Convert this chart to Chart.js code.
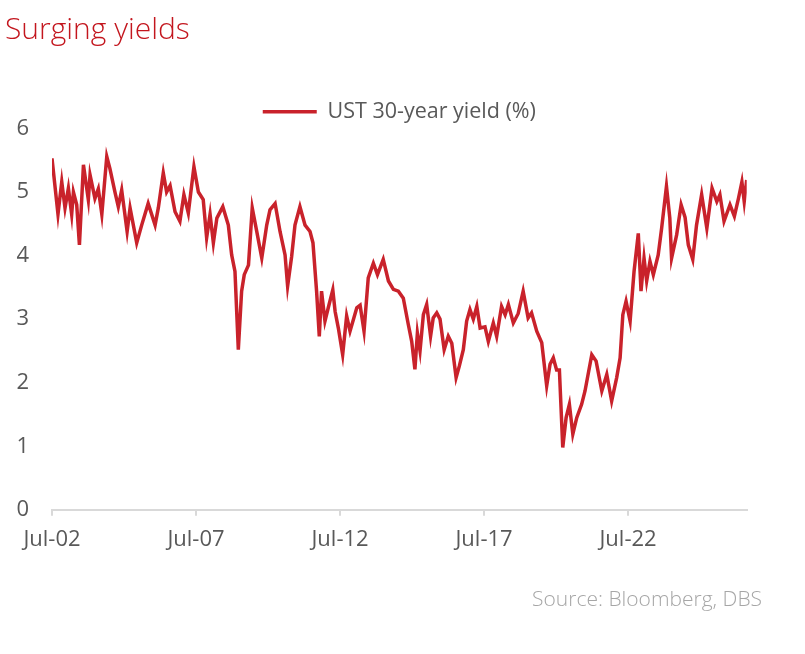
<!DOCTYPE html>
<html>
<head>
<meta charset="utf-8">
<title>Surging yields</title>
<script src="https://cdn.jsdelivr.net/npm/chart.js@4.4.1/dist/chart.umd.min.js"></script>
<style>
  html, body { margin: 0; padding: 0; background: #fff; }
  #wrap { width: 805px; height: 654px; }
</style>
</head>
<body>
<div id="wrap"><canvas id="yieldChart"></canvas></div>
<script>
// UST 30-year yield (turning points, %)
const dates = [
    '2002-07-01', '2002-09-16', '2002-11-03', '2002-12-14', '2003-01-26', '2003-03-07', '2003-03-29', '2003-05-10',
    '2003-06-14', '2003-08-04', '2003-10-05', '2003-10-27', '2003-12-28', '2004-02-10', '2004-03-24', '2004-05-26',
    '2004-07-05', '2004-09-08', '2004-10-20', '2004-12-02', '2005-02-10', '2005-03-17', '2005-06-10', '2005-08-12',
    '2005-11-03', '2006-01-30', '2006-03-10', '2006-05-12', '2006-06-24', '2006-08-07', '2006-10-09', '2006-12-10',
    '2007-01-30', '2007-03-25', '2007-06-05', '2007-07-31', '2007-10-01', '2007-11-14', '2007-12-27', '2008-02-08',
    '2008-03-22', '2008-06-06', '2008-08-15', '2008-09-27', '2008-11-08', '2008-12-20', '2009-02-01', '2009-03-04',
    '2009-04-27', '2009-06-14', '2009-08-10', '2009-10-13', '2009-12-15', '2010-01-26', '2010-03-30', '2010-06-01',
    '2010-08-04', '2010-09-06', '2010-10-27', '2010-12-08', '2011-02-10', '2011-04-14', '2011-06-16', '2011-07-23',
    '2011-09-08', '2011-10-12', '2011-11-10', '2011-12-23', '2012-02-04', '2012-03-31', '2012-04-30', '2012-06-10',
    '2012-08-04', '2012-09-24', '2012-11-06', '2013-01-31', '2013-03-12', '2013-05-01', '2013-06-24', '2013-08-28',
    '2013-10-19', '2014-01-01', '2014-03-06', '2014-05-08', '2014-07-10', '2014-09-12', '2014-11-14', '2014-12-27',
    '2015-02-07', '2015-03-08', '2015-04-11', '2015-05-23', '2015-07-04', '2015-08-23', '2015-09-26', '2015-11-10',
    '2015-12-21', '2016-02-13', '2016-04-04', '2016-05-18', '2016-07-12', '2016-08-22', '2016-10-12', '2016-11-24',
    '2017-01-05', '2017-02-17', '2017-03-31', '2017-05-12', '2017-07-13', '2017-08-25', '2017-10-27', '2017-12-09',
    '2018-02-10', '2018-03-25', '2018-05-05', '2018-07-07', '2018-09-08', '2018-11-10', '2019-01-12', '2019-02-25',
    '2019-04-30', '2019-07-02', '2019-09-04', '2019-10-16', '2019-11-27', '2020-01-08', '2020-02-13', '2020-03-25',
    '2020-05-07', '2020-06-18', '2020-07-31', '2020-09-20', '2020-11-21', '2021-01-03', '2021-03-28', '2021-05-22',
    '2021-08-03', '2021-10-05', '2021-12-06', '2022-02-09', '2022-03-22', '2022-04-26', '2022-06-06', '2022-07-27',
    '2022-09-16', '2022-11-09', '2022-12-13', '2023-01-21', '2023-02-24', '2023-04-05', '2023-05-17', '2023-07-18',
    '2023-08-31', '2023-11-01', '2023-12-13', '2024-01-05', '2024-03-09', '2024-05-04', '2024-06-24', '2024-08-04',
    '2024-09-30', '2024-11-17', '2025-01-21', '2025-03-26', '2025-05-31', '2025-07-31', '2025-09-09', '2025-10-31',
    '2026-01-15', '2026-03-10', '2026-05-01', '2026-06-14', '2026-07-13', '2026-08-14'
];
const yields = [
    5.53, 4.65, 5.16, 4.75, 5.06, 4.65, 5.00, 4.80,
    4.17, 5.43, 4.88, 5.27, 4.90, 5.05, 4.65, 5.56,
    5.37, 5.00, 4.77, 5.03, 4.38, 4.75, 4.20, 4.48,
    4.82, 4.48, 4.75, 5.30, 5.00, 5.10, 4.69, 4.54,
    4.96, 4.67, 5.40, 5.00, 4.88, 4.28, 4.65, 4.20,
    4.59, 4.77, 4.48, 4.01, 3.75, 2.52, 3.44, 3.70,
    3.85, 4.75, 4.38, 3.96, 4.48, 4.72, 4.82, 4.38,
    4.01, 3.52, 3.99, 4.48, 4.77, 4.48, 4.38, 4.20,
    3.44, 2.73, 3.44, 2.97, 3.18, 3.46, 3.12, 2.86,
    2.44, 3.05, 2.81, 3.18, 3.22, 2.81, 3.65, 3.88,
    3.70, 3.94, 3.60, 3.47, 3.44, 3.33, 2.92, 2.65,
    2.21, 2.78, 2.50, 3.07, 3.23, 2.73, 3.02, 3.10,
    3.00, 2.52, 2.73, 2.62, 2.08, 2.26, 2.52, 2.97,
    3.15, 3.00, 3.20, 2.86, 2.88, 2.65, 2.94, 2.73,
    3.20, 3.07, 3.23, 2.94, 3.09, 3.44, 3.02, 3.10,
    2.81, 2.63, 1.95, 2.29, 2.39, 2.20, 2.20, 0.98,
    1.45, 1.66, 1.19, 1.45, 1.66, 1.87, 2.44, 2.34,
    1.87, 2.13, 1.71, 2.08, 2.39, 3.07, 3.28, 2.97,
    3.75, 4.35, 3.44, 3.96, 3.60, 3.91, 3.70, 4.01,
    4.43, 5.09, 4.59, 3.96, 4.33, 4.80, 4.60, 4.17,
    3.94, 4.48, 4.96, 4.43, 5.06, 4.85, 4.96, 4.54,
    4.80, 4.62, 4.90, 5.16, 4.85, 5.19
];
const tickDates = ['2002-07-01', '2007-07-01', '2012-07-01', '2017-07-01', '2022-07-01'];
const tickLabels = ['Jul-02', 'Jul-07', 'Jul-12', 'Jul-17', 'Jul-22'];
const yTicks = [0, 1, 2, 3, 4, 5, 6];

// date string -> decimal year so the linear axis spaces points by time
function toYear(s) {
    const [y, m, d] = s.split('-').map(Number);
    return y + (m - 1) / 12 + ((d || 1) - 1) / 365;
}

// nudge the built-in legend down a touch
const legendNudge = {
    id: 'legendNudge',
    afterLayout(chart) {
        chart.legend.top += 4;
        chart.legend.bottom += 4;
    }
};

const ctx = document.getElementById('yieldChart').getContext('2d');
const chart = new Chart(ctx, {
    type: 'line',
    data: {
        datasets: [{
            label: 'UST 30-year yield (%)',
            data: dates.map((d, i) => ({ x: toYear(d), y: yields[i] })),
            borderColor: '#c9222b',
            backgroundColor: '#c9222b',
            borderWidth: 3.5,
            pointRadius: 0,
            tension: 0
        }]
    },
    options: {
        responsive: true,
        maintainAspectRatio: false,
        animation: false,
        layout: { padding: { left: 5, right: 43, top: 0, bottom: 0 } },
        plugins: {
            title: {
                display: true,
                text: 'Surging yields',
                align: 'start',
                color: '#c3161e',
                font: { family: 'Open Sans', size: 30, weight: '300' },
                padding: { top: 12, bottom: 39 }
            },
            legend: {
                display: true,
                fullSize: false,
                labels: {
                    usePointStyle: true,
                    pointStyle: 'line',
                    pointStyleWidth: 54,
                    color: '#595959',
                    padding: 10,
                    font: { family: 'Open Sans', size: 21.5 }
                }
            },
            subtitle: {
                display: true,
                text: 'Source: Bloomberg, DBS',
                position: 'bottom',
                align: 'end',
                color: '#a6a6a6',
                font: { family: 'Open Sans', size: 21, weight: '300' },
                padding: { top: 28, bottom: 41 }
            },
            tooltip: { enabled: false }
        },
        scales: {
            x: {
                type: 'linear',
                min: toYear(tickDates[0]),
                max: toYear(dates[dates.length - 1]),
                afterBuildTicks: scale => {
                    scale.ticks = tickDates.map(d => ({ value: toYear(d) }));
                },
                afterFit: scale => { scale.height = 50; },
                ticks: {
                    autoSkip: false,
                    maxRotation: 0,
                    color: '#595959',
                    padding: 11,
                    font: { family: 'Open Sans', size: 22 },
                    callback: (v, i) => tickLabels[i]
                },
                grid: {
                    drawOnChartArea: false,
                    drawTicks: true,
                    tickLength: 6,
                    color: '#d9d9d9',
                    lineWidth: 2
                },
                border: { display: true, color: '#d9d9d9', width: 2 }
            },
            y: {
                min: yTicks[0],
                max: yTicks[yTicks.length - 1],
                afterFit: scale => { scale.width = 47; },
                ticks: {
                    stepSize: 1,
                    color: '#595959',
                    padding: 23,
                    font: { family: 'Open Sans', size: 22 }
                },
                grid: { display: false, drawTicks: false },
                border: { display: false }
            },
            yRight: {
                position: 'right',
                afterFit: scale => { scale.width = 15.3; },
                ticks: { display: false },
                grid: { display: false, drawTicks: false },
                border: { display: false }
            }
        }
    },
    plugins: [legendNudge]
});
</script>
</body>
</html>
